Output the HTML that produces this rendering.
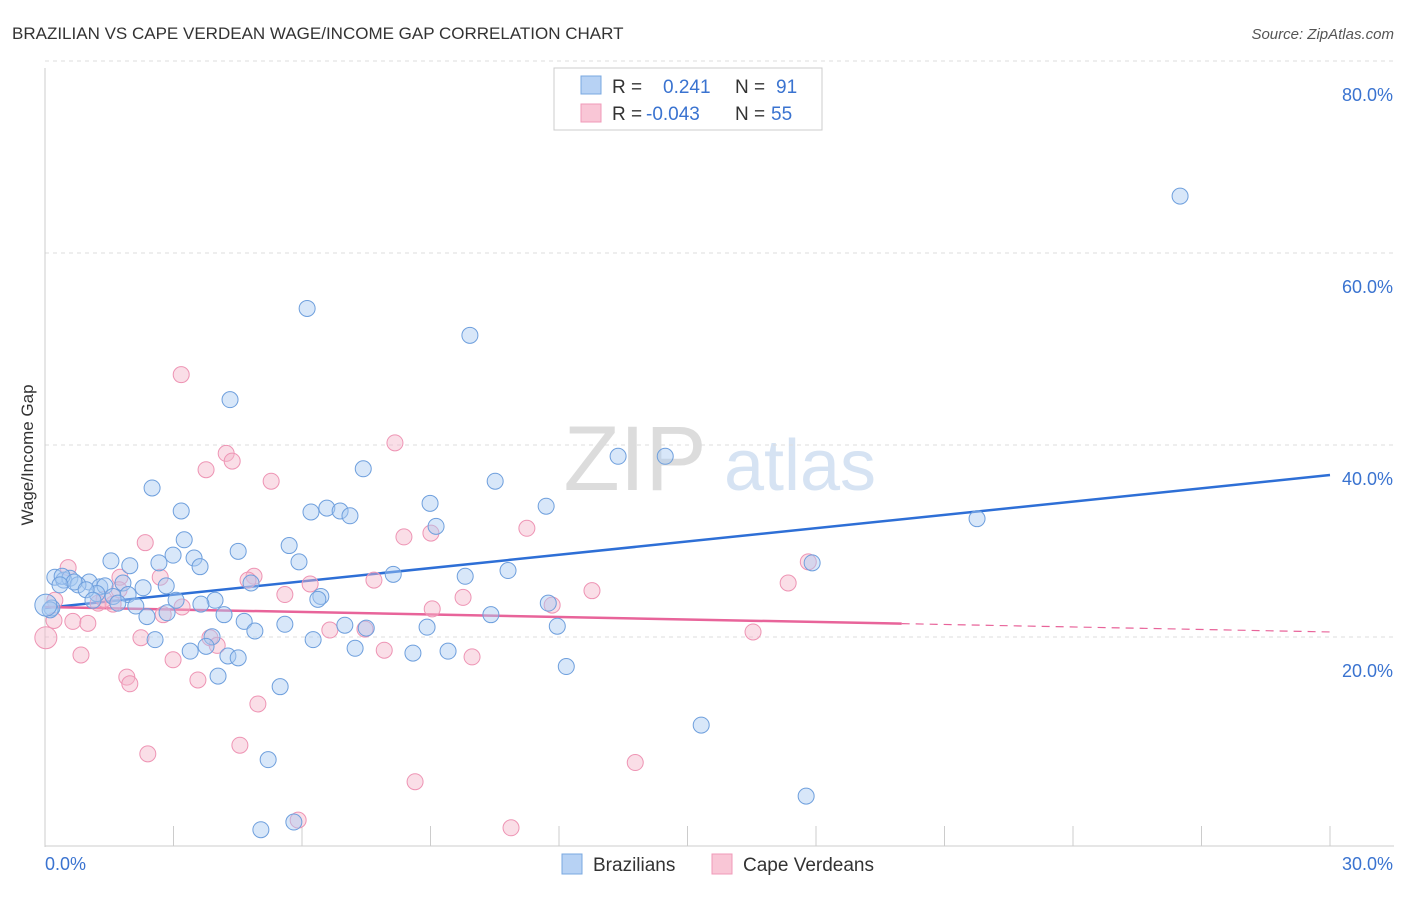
<!DOCTYPE html>
<html><head><meta charset="utf-8"><style>
body{margin:0;background:#fff;font-family:"Liberation Sans",sans-serif}
svg text{font-family:"Liberation Sans",sans-serif}
</style></head><body>
<svg id="chart" width="1406" height="892" viewBox="0 0 1406 892" xmlns="http://www.w3.org/2000/svg">
<text x="12" y="39" font-size="17" fill="#333">BRAZILIAN VS CAPE VERDEAN WAGE/INCOME GAP CORRELATION CHART</text>
<text x="1394" y="39" font-size="15" fill="#555" text-anchor="end" font-style="italic">Source: ZipAtlas.com</text>
<g>
<text x="635" y="490" font-size="92" fill="#dcdcdc" font-family="Liberation Serif" text-anchor="middle">ZIP</text>
<text x="800" y="490" font-size="72" fill="#d6e3f3" text-anchor="middle">atlas</text>
</g>
<g id="grid"></g>
<g id="axes"></g>
<g id="trend"></g>
<g id="pts"></g>
<text transform="translate(33,455) rotate(-90)" font-size="17" fill="#333" text-anchor="middle">Wage/Income Gap</text>
<g>
<rect x="554" y="68" width="268" height="62" fill="#fff" stroke="#ccc"/>
<rect x="581" y="76" width="20" height="18" fill="#b7d2f4" stroke="#7aa8e0"/>
<rect x="581" y="104" width="20" height="18" fill="#f9c6d6" stroke="#f09ab8"/>
<text x="612" y="93" font-size="19" fill="#333">R =</text>
<text x="663" y="93" font-size="19" fill="#3a73d0">0.241</text>
<text x="735" y="93" font-size="19" fill="#333">N =</text>
<text x="776" y="93" font-size="19" fill="#3a73d0">91</text>
<text x="612" y="120" font-size="19" fill="#333">R =</text>
<text x="646" y="120" font-size="19" fill="#3a73d0">-0.043</text>
<text x="735" y="120" font-size="19" fill="#333">N =</text>
<text x="771" y="120" font-size="19" fill="#3a73d0">55</text>
</g>
<g>
<rect x="562" y="854" width="20" height="20" fill="#b7d2f4" stroke="#7aa8e0"/>
<text x="593" y="871" font-size="19" fill="#333">Brazilians</text>
<rect x="712" y="854" width="20" height="20" fill="#f9c6d6" stroke="#f09ab8"/>
<text x="743" y="871" font-size="19" fill="#333">Cape Verdeans</text>
</g>
</svg>
<script>
const blueX=[26.50,6.12,9.92,4.32,13.38,14.48,7.43,10.51,2.50,8.99,11.70,3.18,6.21,6.58,6.89,7.12,9.13,21.76,3.25,4.51,5.70,1.54,2.99,3.48,1.98,2.66,5.93,3.62,17.91,10.81,8.13,9.81,0.23,0.44,0.58,1.03,0.77,1.28,1.40,1.82,2.29,2.83,4.81,1.21,1.59,1.94,1.70,2.12,3.06,3.97,3.64,6.44,6.37,0.16,2.38,4.18,4.65,5.60,4.90,7.00,7.50,8.92,10.41,11.75,11.96,2.85,3.90,6.26,2.57,3.76,3.39,7.24,8.59,9.41,4.27,4.51,4.04,12.17,5.49,15.32,5.21,17.77,5.04,5.81,0.40,0.68,0.96,0.35,0.12,0.02,1.12];
const blueY=[67.8,56.1,53.3,46.6,40.7,40.7,39.4,38.1,37.4,35.8,35.5,35.0,34.9,35.3,35.0,34.5,33.4,34.2,32.0,30.8,31.4,29.8,30.4,30.1,29.3,29.6,29.7,29.2,29.6,28.8,28.4,28.2,28.1,27.8,28.0,27.6,27.3,27.1,27.2,27.5,27.0,27.2,27.5,26.4,26.1,26.3,25.4,25.1,25.7,25.7,25.3,26.1,25.8,24.9,24.0,24.2,23.5,23.2,22.5,23.1,22.8,22.9,24.2,25.4,23.0,24.4,21.9,21.6,21.6,20.9,20.4,20.7,20.2,20.4,19.9,19.7,17.8,18.8,16.7,12.7,9.1,5.3,1.8,2.6,28.2,27.6,26.8,27.3,24.7,25.2,25.7];
const pinkX=[3.18,8.17,4.23,4.37,3.76,5.28,11.25,8.38,9.01,2.34,0.54,1.75,2.69,4.88,4.74,6.19,7.68,5.60,9.76,12.77,17.35,17.82,1.73,1.24,1.59,3.20,2.76,9.04,11.84,0.65,1.00,0.21,0.02,2.24,3.85,6.65,7.47,7.92,4.02,9.97,16.53,0.84,2.99,1.91,1.98,3.57,4.97,4.55,2.40,13.78,8.64,5.91,10.88,0.23,1.38];
const pinkY=[49.2,42.1,41.0,40.2,39.3,38.1,33.2,32.3,32.7,31.7,29.1,28.1,28.1,28.2,27.8,27.4,27.8,26.3,26.0,26.7,27.5,29.7,26.8,25.4,25.3,25.0,24.2,24.8,25.2,23.5,23.3,23.6,21.8,21.8,21.8,22.6,22.7,20.5,21.0,19.8,22.4,20.0,19.5,17.7,17.0,17.4,14.9,10.6,9.7,8.8,6.8,2.8,2.0,25.7,25.8];
const yTicks=[20,40,60,80];
const yTickLabels=["20.0%","40.0%","60.0%","80.0%"];
const xTicks=[0,3,6,9,12,15,18,21,24,27,30];
const blueTrend=[24.9,38.75];
const pinkTrend=[25.0,22.4];
const pinkSolidEnd=20;
const X0=45,X1=1330,Y0=847,PX=192/20;
const sx=v=>X0+v*(X1-X0)/30;
const sy=v=>Y0-v*PX;
const NS="http://www.w3.org/2000/svg";
function mk(parent,tag,attrs){const e=document.createElementNS(NS,tag);for(const k in attrs)e.setAttribute(k,attrs[k]);parent.appendChild(e);return e;}
const grid=document.getElementById('grid'),axes=document.getElementById('axes'),trend=document.getElementById('trend'),pts=document.getElementById('pts');
yTicks.forEach((t,i)=>{
 const l=mk(grid,'line',{x1:X0,x2:1394,y1:sy(t)-18,y2:sy(t)-18,stroke:'#ddd','stroke-dasharray':'4,4'});
 
 
 const tx=mk(axes,'text',{x:1393,y:sy(t)+22,'font-size':18,fill:'#3a73d0','text-anchor':'end'});
 tx.textContent=yTickLabels[i];
 
 
});
const ax=mk(axes,'line',{x1:X0,x2:X0,y1:68,y2:Y0,stroke:'#ccc'});


const bx=mk(axes,'line',{x1:X0,x2:1394,y1:Y0-1,y2:Y0-1,stroke:'#ccc'});


xTicks.forEach(t=>{
 const tk=mk(axes,'line',{x1:sx(t),x2:sx(t),y1:826,y2:846,stroke:'#ccc'});
 
 
});
const xl0=mk(axes,'text',{x:45,y:870,'font-size':18,fill:'#3a73d0'});xl0.textContent="0.0%";


const xl1=mk(axes,'text',{x:1393,y:870,'font-size':18,fill:'#3a73d0','text-anchor':'end'});xl1.textContent="30.0%";


function dots(xs,ys,fill,stroke,name){
 xs.forEach((x,i)=>{
  const c=mk(pts,'circle',{cx:sx(x),cy:sy(ys[i]),r:(x<0.1?11:8),fill:fill,'fill-opacity':0.45,stroke:stroke,'stroke-width':1});
  
  
 });
}
dots(pinkX,pinkY,'#f5b5ca','#ee94b4','cape-verdean');
dots(blueX,blueY,'#a9c9f1','#6e9fdd','brazilian');
const bt=mk(trend,'line',{x1:sx(0),y1:sy(blueTrend[0]),x2:sx(30),y2:sy(blueTrend[1]),stroke:'#2e6fd6','stroke-width':2.5});


const pm=pinkTrend[0]+(pinkTrend[1]-pinkTrend[0])*pinkSolidEnd/30;
const pt=mk(trend,'line',{x1:sx(0),y1:sy(pinkTrend[0]),x2:sx(pinkSolidEnd),y2:sy(pm),stroke:'#e8649a','stroke-width':2.5});


const pd=mk(trend,'line',{x1:sx(pinkSolidEnd),y1:sy(pm),x2:sx(30),y2:sy(pinkTrend[1]),stroke:'#e8649a','stroke-width':1.2,'stroke-dasharray':'8,6'});


</script>
</body></html>
